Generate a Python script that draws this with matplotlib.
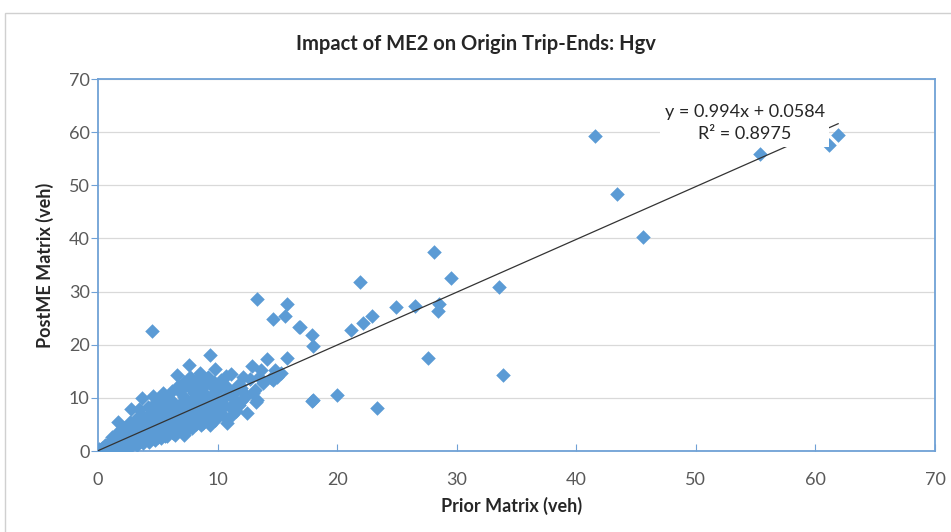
import numpy as np
import matplotlib
matplotlib.use("Agg")
import matplotlib.pyplot as plt
from matplotlib.patches import Rectangle

# Origin trip-ends, Hgv: prior matrix vs post-ME matrix (veh)
prior = [
    # dense cloud near the origin
    0.0, 0.1, 0.2, 0.3, 0.4, 0.5, 0.6, 0.7, 0.8, 0.9, 1.0, 1.0, 0.6, 1.1,
    1.2, 1.3, 1.4, 1.5, 1.6, 1.7, 1.8, 1.9, 2.0, 2.0, 1.7,
    2.1, 2.2, 2.3, 2.4, 2.5, 2.6, 2.7, 2.8, 2.9, 3.0, 2.8, 3.0,
    3.1, 3.2, 3.3, 3.4, 3.4, 3.5, 3.6, 3.7, 3.7, 3.8, 3.9, 4.0, 4.0,
    4.1, 4.2, 4.3, 4.4, 4.5, 4.6, 4.6, 4.7, 4.8, 4.9, 5.0, 5.0,
    5.1, 5.2, 5.3, 5.4, 5.5, 5.6, 5.6, 5.7, 5.8, 5.9, 6.0, 6.0, 5.4,
    6.1, 6.2, 6.3, 6.4, 6.5, 6.6, 6.6, 6.7, 6.8, 6.9, 7.0, 7.0,
    7.1, 7.2, 7.3, 7.4, 7.5, 7.6, 7.6, 7.7, 7.8, 7.9, 8.0, 8.0,
    8.1, 8.2, 8.3, 8.4, 8.5, 8.5, 8.6, 8.7, 8.8, 8.9, 9.0, 9.0,
    9.2, 9.3, 9.4, 9.4, 9.4, 9.5, 9.6, 9.7, 9.8, 9.9, 10.0, 10.0,
    10.2, 10.3, 10.5, 10.6, 10.8, 10.8, 11.0, 11.1, 11.3, 11.5, 11.7, 11.9, 12.0,
    12.1, 12.2, 12.5, 12.7, 12.9, 13.0, 13.1, 13.3, 13.2, 13.5, 14.1, 13.8,
    14.5, 14.6, 15.0, 15.3, 14.8, 15.8, 13.6, 6.9, 8.3,
    1.5, 2.5, 3.5, 4.5, 5.5, 6.5, 7.5, 0.5, 1.0, 2.0, 3.0, 4.0, 5.0, 6.0,
    0.3, 0.8, 1.3, 1.8, 2.3, 2.8, 3.3, 3.8, 4.3, 4.8, 5.3, 5.8, 6.3, 6.8, 7.3, 7.8, 8.3,
    1.2, 1.7, 2.2, 2.7, 3.2, 3.7, 4.2, 4.7, 5.2, 5.7, 6.2, 6.7, 7.2, 7.7, 8.2, 8.7,
    9.2, 9.7, 10.2, 10.7,
    3.0, 3.5, 4.0, 4.5, 5.0, 5.5, 6.0, 6.5, 7.0, 7.5, 8.0, 8.5, 9.0, 9.5, 10.0,
    10.5, 11.0, 11.5, 12.0,
    6.4, 7.2, 8.8, 9.8, 10.3, 11.2, 11.8, 12.3,
    # scattered points
    4.5, 13.3, 15.8, 14.6, 15.6, 16.8, 17.9, 18.0, 16.9, 17.9, 18.0,
    20.0, 23.3, 21.2, 22.2, 22.9, 24.9, 26.5, 28.5, 28.4, 27.6, 21.9,
    28.1, 29.5, 33.5, 33.9,
    41.6, 43.4, 45.6, 55.4, 61.1, 61.9,
]
post_me = [
    0.0, 0.3, 0.1, 0.5, 0.2, 0.8, 0.4, 1.0, 0.5, 1.3, 0.7, 1.6, 1.2, 0.3,
    1.0, 2.0, 0.6, 1.5, 2.5, 1.1, 3.0, 1.8, 0.9, 2.4, 5.5,
    3.4, 1.4, 2.2, 4.0, 1.2, 2.9, 3.5, 1.9, 4.5, 2.6, 7.9, 5.2,
    1.5, 3.3, 4.1, 2.2, 7.9, 5.0, 3.0, 10.0, 1.8, 4.2, 6.0, 2.8, 5.4,
    3.6, 6.5, 2.3, 4.6, 7.2, 10.4, 3.2, 5.6, 8.0, 4.1, 2.6, 6.6,
    3.5, 5.0, 7.5, 4.3, 9.0, 2.8, 6.1, 3.8, 8.2, 5.3, 4.3, 7.0, 11.0,
    9.6, 3.5, 5.8, 8.0, 4.8, 14.3, 6.9, 11.5, 3.9, 9.0, 5.6, 7.7,
    4.5, 10.2, 6.4, 8.5, 5.1, 16.2, 12.0, 7.2, 9.4, 4.3, 6.2, 11.0,
    8.0, 5.0, 13.0, 7.0, 14.7, 9.6, 4.9, 11.8, 6.3, 8.6, 10.5, 5.8,
    5.6, 7.6, 18.1, 12.6, 4.9, 9.1, 10.8, 6.5, 15.4, 8.3, 11.6, 7.2,
    9.0, 13.4, 6.5, 10.2, 5.2, 12.0, 8.3, 14.5, 10.0, 7.6, 12.4, 12.4, 9.5,
    13.9, 11.0, 7.2, 13.5, 16.0, 10.9, 11.5, 9.6, 9.2, 14.0, 17.3, 12.8,
    13.8, 13.4, 13.9, 14.7, 15.2, 17.5, 15.3, 11.5, 13.4,
    0.8, 1.6, 2.4, 3.3, 4.1, 5.0, 6.0, 0.2, 0.2, 1.2, 1.8, 3.0, 4.0, 4.9,
    0.0, 0.1, 0.3, 0.5, 0.7, 1.0, 1.2, 1.5, 1.7, 2.0, 2.4, 2.9, 3.3, 4.4, 3.6, 5.5, 6.0,
    2.6, 3.5, 4.4, 5.4, 6.0, 6.8, 8.2, 8.9, 9.6, 10.2, 11.3, 12.3, 13.0, 13.9, 12.0, 13.4,
    14.0, 13.0, 11.8, 14.2,
    3.8, 4.6, 4.3, 5.2, 5.9, 6.8, 5.8, 7.4, 8.8, 7.0, 9.2, 7.8, 8.5, 10.0, 9.3,
    8.6, 10.8, 11.3, 11.8,
    3.0, 3.0, 5.2, 5.9, 7.9, 6.8, 8.6, 10.1,
    22.6, 28.6, 27.7, 24.8, 25.4, 23.3, 21.8, 19.8, 23.3, 9.4, 9.6,
    10.5, 8.1, 22.8, 24.1, 25.4, 27.1, 27.3, 27.7, 26.3, 17.5, 31.8,
    37.4, 32.6, 30.9, 14.3,
    59.3, 48.4, 40.3, 55.9, 57.6, 59.5,
]

# linear trendline as reported on the chart
slope = 0.994
intercept = 0.0584
r_squared = 0.8975

x_ticks = [0, 10, 20, 30, 40, 50, 60, 70]
y_ticks = [0, 10, 20, 30, 40, 50, 60, 70]

blue = "#5B9BD5"
frame_blue = "#6FA1D6"
grey_txt = "#595959"
plt.rcParams['font.family'] = ['Lato', 'DejaVu Sans']

fig = plt.figure(figsize=(9.51, 5.32), dpi=100)
ax = fig.add_axes([98 / 951, 81 / 532, 837 / 951, 372 / 532])

ax.scatter(prior, post_me, marker="D", s=55, color=blue, linewidths=0, zorder=3)

xs = np.array([0, max(prior)])
ax.plot(xs, slope * xs + intercept, color="#333333", lw=0.9, zorder=4)

ax.text(54.1, 61.7, "y = %.3fx + %.4f\nR² = %.4f" % (slope, intercept, r_squared),
        ha="center", va="center", fontsize=13, color="#262626", linespacing=1.45,
        bbox=dict(boxstyle="square,pad=0.25", fc="white", ec="none"), zorder=5)

ax.set_xlim(0, 70)
ax.set_ylim(0, 70)
ax.set_xticks(x_ticks)
ax.set_yticks(y_ticks)
ax.grid(axis="y", color="#D9D9D9", lw=0.9, zorder=0)
ax.set_axisbelow(True)
for sp in ax.spines.values():
    sp.set_color(frame_blue)
    sp.set_linewidth(1.3)
ax.tick_params(axis="y", direction="out", length=5, color=frame_blue,
               labelsize=13, labelcolor=grey_txt, pad=1)
ax.tick_params(axis="x", direction="in", length=5, color=frame_blue,
               labelsize=13, labelcolor=grey_txt, pad=15)

fig.text(0.5, 1 - 44 / 532, "Impact of ME2 on Origin Trip-Ends: Hgv",
         ha="center", va="center", fontsize=14.5, fontweight="bold", color="#262626")
fig.text(512 / 951, 1 - 506 / 532, "Prior Matrix (veh)", ha="center", va="center",
         fontsize=13, fontweight="bold", color="#262626")
fig.text(45 / 951, 1 - 265 / 532, "PostME Matrix (veh)", ha="center", va="center",
         rotation=90, fontsize=13, fontweight="bold", color="#262626")

# chart area border
fig.patches.append(Rectangle((5 / 951, -0.1), 1.2, 1.1 - 13 / 532, transform=fig.transFigure,
                             fill=False, ec="#D0D0D0", lw=1))

fig.savefig("out.png", dpi=100)
